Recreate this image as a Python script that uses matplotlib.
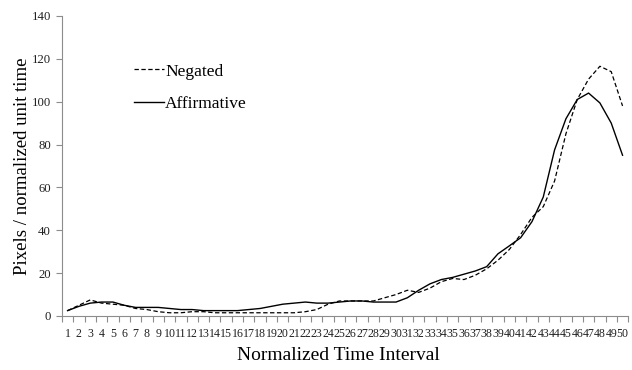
import matplotlib.pyplot as plt
import numpy as np

plt.rcParams['font.family'] = ['Liberation Serif', 'DejaVu Serif']

intervals = np.arange(1, 51)
negated = [2.5, 5, 7.5, 6, 5.5, 5, 3.5, 3, 2, 1.5,
           1.5, 2, 2, 1.5, 1.5, 1.5, 1.5, 1.5, 1.5, 1.5,
           1.5, 2, 3, 5.5, 7, 7, 7, 7, 8.5, 10,
           12, 11, 13, 16, 17.5, 17, 19, 22, 26, 31,
           38, 46, 51, 63, 85, 101, 110.5, 116.5, 114, 98]
affirmative = [2.5, 4.5, 6, 6.5, 6.5, 5, 4, 4, 4, 3.5,
               3, 3, 2.5, 2.5, 2.5, 2.5, 3, 3.5, 4.5, 5.5,
               6, 6.5, 6, 6, 6.5, 7, 7, 6.5, 6.5, 6.5,
               8.5, 12, 15, 17, 18, 19.5, 21, 23, 29, 32.7,
               36.5, 44, 55.5, 77.5, 92, 101, 104, 99.4, 90, 75]

fig = plt.figure(figsize=(6.32, 3.70), dpi=100)
ax = fig.add_axes([0.098, 0.146, 0.896, 0.811])

ax.plot(intervals, negated, color='black', lw=0.9, ls=(0, (3.5, 2)), label='Negated')
ax.plot(intervals, affirmative, color='black', lw=1.0, label='Affirmative')

ax.set_xlim(0.5, 50.5)
ax.set_ylim(0, 140)
ax.set_yticks(np.arange(0, 141, 20))
ax.set_xticks(intervals)
ax.set_xticklabels([str(i) for i in intervals])
ax.set_xticks(np.arange(0.5, 51, 1), minor=True)

for s in ['top', 'right']:
    ax.spines[s].set_visible(False)
for s in ['left', 'bottom']:
    ax.spines[s].set_color('#8c8c8c')
    ax.spines[s].set_linewidth(0.8)

ax.tick_params(axis='x', which='major', length=0, labelsize=8.6, pad=9, colors='#222222')
ax.tick_params(axis='x', which='minor', length=4, color='#8c8c8c', width=0.8)
ax.tick_params(axis='y', length=4, color='#8c8c8c', width=0.8, labelsize=9.2, labelcolor='#222222', pad=4)

# axis titles placed in figure coords
fig.text(0.036, 0.55, 'Pixels / normalized unit time', fontsize=13.5,
         rotation=90, ha='center', va='center')
fig.text(0.535, 0.04, 'Normalized Time Interval', fontsize=14,
         ha='center', va='center')

ax.legend(loc='upper left', bbox_to_anchor=(0.115, 0.865), frameon=False, fontsize=12.5,
          handlelength=1.7, handletextpad=0.1, labelspacing=0.95, borderaxespad=0)

fig.savefig('out.png', dpi=100)
